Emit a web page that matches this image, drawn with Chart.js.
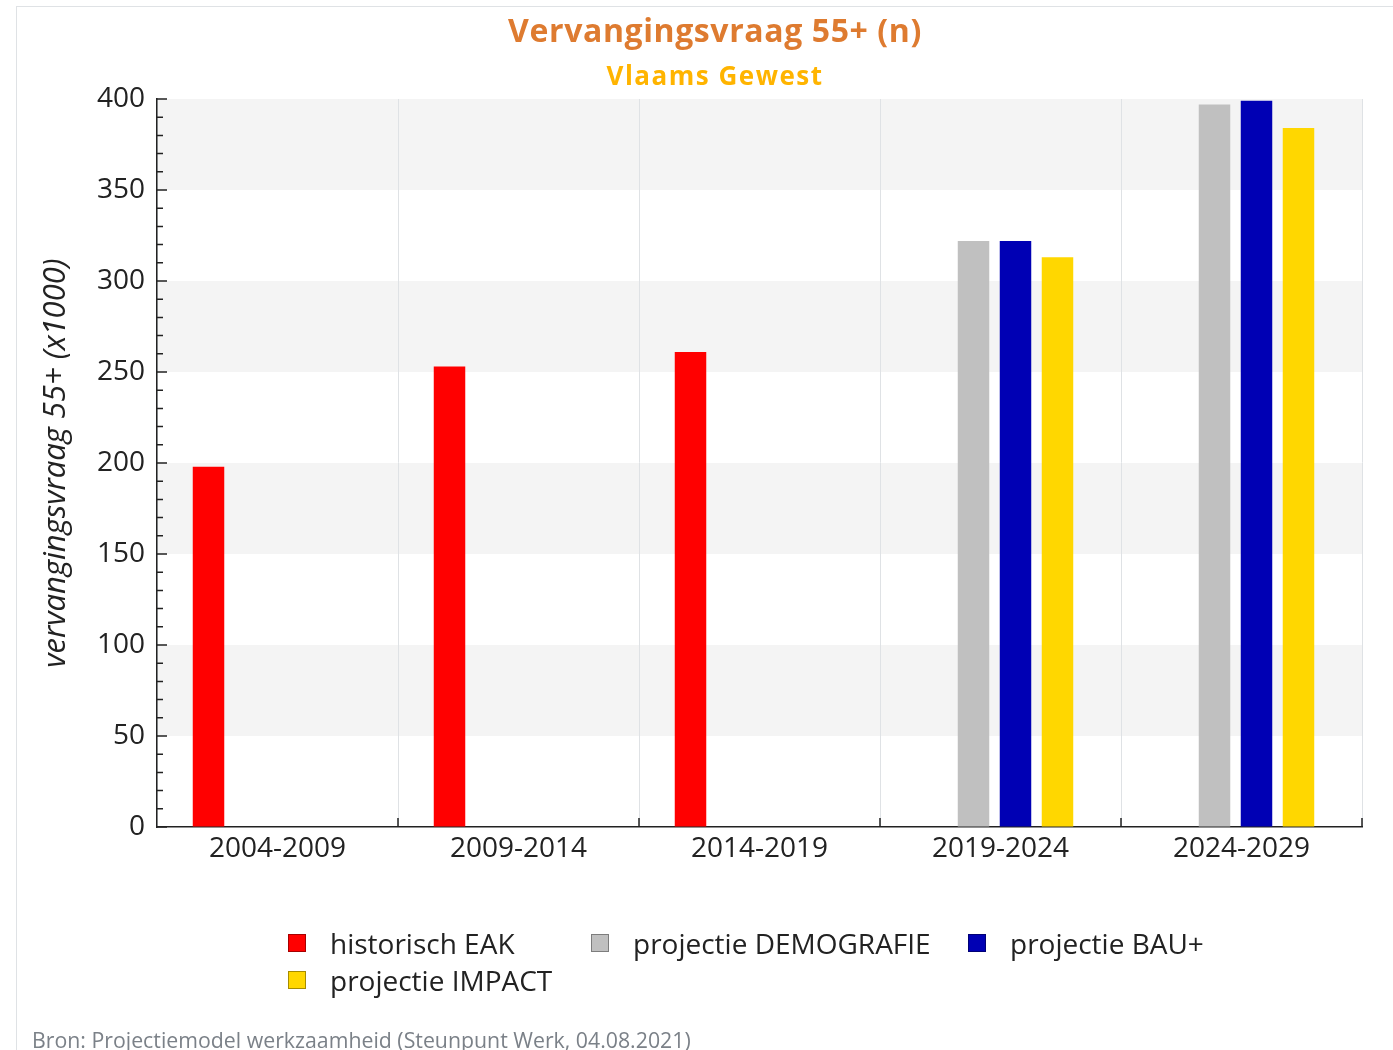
<!DOCTYPE html>
<html>
<head>
<meta charset="utf-8">
<title>Vervangingsvraag 55+</title>
<script src="https://cdn.jsdelivr.net/npm/chart.js@4.4.1/dist/chart.umd.min.js"></script>
<style>
  body { margin: 0; background: #fff; font-family: 'Open Sans', sans-serif; overflow: hidden; }
  #frame { position: absolute; left: 16px; top: 6px; width: 1400px; height: 1100px; border: 1px solid #dfe2e5; }
  #chart { position: absolute; left: 0; top: 0; }
  .head { position: absolute; left: 715px; transform: translateX(-50%); white-space: nowrap; font-weight: bold; }
  #title { top: 14px; font-size: 32px; line-height: 32px; letter-spacing: 0.6px; color: #de7b30; }
  #subtitle { top: 62px; font-size: 26px; line-height: 26px; letter-spacing: 1.5px; color: #ffb400; }
  #legend { position: absolute; left: 288px; top: 924px; display: grid; grid-template-columns: 303px 377px auto; grid-auto-rows: 37px; font-size: 28px; color: #222; }
  #legend .item { display: flex; align-items: center; white-space: nowrap; }
  #legend .box { width: 16px; height: 16px; border: 1px solid rgba(0,0,0,0.35); margin-right: 24px; }
  #source { position: absolute; left: 32px; top: 1025px; font-size: 21.3px; color: #7b8188; white-space: nowrap; }
</style>
</head>
<body>
<div id="frame"></div>
<canvas id="chart" width="1393" height="1050"></canvas>
<div id="title" class="head">Vervangingsvraag 55+ (n)</div>
<div id="subtitle" class="head">Vlaams Gewest</div>
<div id="legend"></div>
<div id="source">Bron: Projectiemodel werkzaamheid (Steunpunt Werk, 04.08.2021)</div>
<script>
// periodes
const categories = ['2004-2009', '2009-2014', '2014-2019', '2019-2024', '2024-2029'];

// vervangingsvraag 55+ (x1000)
const historischEAK = [198, 253, 261, null, null];
const projectieDemografie = [null, null, null, 322, 397];
const projectieBAU = [null, null, null, 322, 399];
const projectieImpact = [null, null, null, 313, 384];

const seriesNames = ['historisch EAK', 'projectie DEMOGRAFIE', 'projectie BAU+', 'projectie IMPACT'];
const seriesColors = ['#ff0000', '#c0c0c0', '#0000b4', '#ffd700'];

const yTicks = [0, 50, 100, 150, 200, 250, 300, 350, 400];

// de groep staat in het origineel iets links van het midden van de categorie
const groupShift = 6 / 241;

// grijze banden + binnenste tickjes zoals het origineel
const axisDecor = {
  id: 'axisDecor',
  beforeDraw(chart) {
    const { ctx, chartArea: a, scales: { y } } = chart;
    ctx.save();
    ctx.fillStyle = '#f4f4f4';
    for (let i = 1; i < yTicks.length; i += 2) {
      const top = y.getPixelForValue(yTicks[i + 1]);
      const bot = y.getPixelForValue(yTicks[i]);
      ctx.fillRect(a.left, top, a.right - a.left, bot - top);
    }
    ctx.restore();
  },
  afterDatasetsDraw(chart) {
    const { ctx, chartArea: a, scales: { x, y } } = chart;
    ctx.save();
    ctx.strokeStyle = '#222';
    ctx.lineWidth = 1.5;
    ctx.beginPath();
    for (let v = 0; v <= 400; v += 10) {
      const py = y.getPixelForValue(v);
      ctx.moveTo(a.left, py);
      ctx.lineTo(a.left + (v % 50 === 0 ? 10 : 6), py);
    }
    for (let i = 1; i <= categories.length; i++) {
      const px = x.getPixelForValue(i - 0.5);
      ctx.moveTo(px, a.bottom);
      ctx.lineTo(px, a.bottom - 9);
    }
    ctx.stroke();
    ctx.restore();
  }
};

Chart.defaults.font.family = "'Open Sans', sans-serif";

const datasets = [historischEAK, projectieDemografie, projectieBAU, projectieImpact].map((d, i) => ({
  label: seriesNames[i],
  data: d.map((v, k) => ({ x: k, y: v })),
  xAxisID: 'xb',
  backgroundColor: seriesColors[i],
  borderWidth: 0,
  categoryPercentage: 0.697,
  barPercentage: 0.75
}));

const chart = new Chart(document.getElementById('chart'), {
  type: 'bar',
  data: { labels: categories, datasets: datasets },
  options: {
    responsive: false,
    animation: false,
    layout: { padding: { left: 0, right: 31, top: 99, bottom: 163 } },
    scales: {
      x: {
        type: 'category',
        offset: true,
        grid: { offset: true, color: '#dfe2e5', lineWidth: 1, drawTicks: false },
        border: { color: '#222', width: 1.5 },
        ticks: { color: '#222', font: { size: 28 }, padding: 5, maxRotation: 0 },
        afterFit(s) { s.height = 60; }
      },
      xb: {
        type: 'linear',
        display: false,
        offset: false,
        bounds: 'data',
        min: -0.5 + groupShift,
        max: categories.length - 0.5 + groupShift,
        afterBuildTicks(s) { s.ticks = categories.map((c, k) => ({ value: k })); }
      },
      y: {
        min: 0,
        max: 400,
        afterBuildTicks(s) { s.ticks = yTicks.map(v => ({ value: v })); },
        ticks: { color: '#222', font: { size: 28 }, padding: 12 },
        grid: { drawOnChartArea: false, drawTicks: false },
        border: { color: '#222', width: 1.5 },
        title: {
          display: true,
          text: 'vervangingsvraag 55+ (x1000)',
          color: '#222',
          font: { size: 31, style: 'italic' },
          padding: { top: 38, bottom: 0 }
        },
        afterFit(s) { s.width = 157; }
      }
    },
    plugins: {
      legend: { display: false },
      tooltip: { enabled: false }
    }
  },
  plugins: [axisDecor]
});

// legenda in html, in de volgorde van de datasets
const legend = document.getElementById('legend');
chart.data.datasets.forEach(ds => {
  const item = document.createElement('div');
  item.className = 'item';
  const box = document.createElement('span');
  box.className = 'box';
  box.style.background = ds.backgroundColor;
  item.appendChild(box);
  item.appendChild(document.createTextNode(ds.label));
  legend.appendChild(item);
});
</script>
</body>
</html>
